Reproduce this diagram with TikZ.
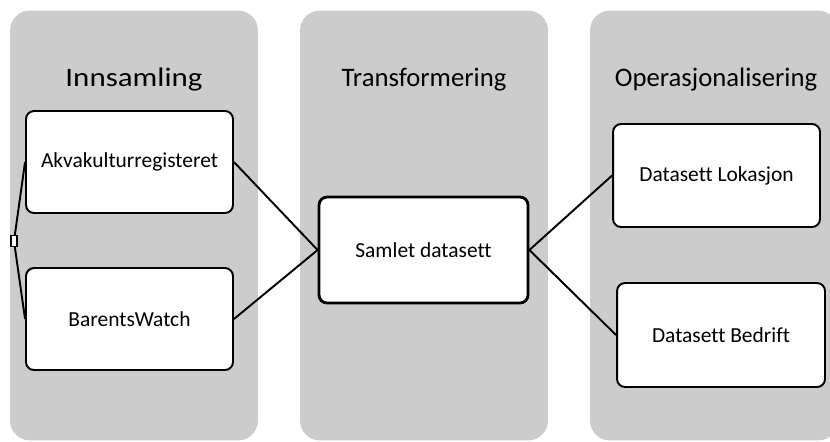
\documentclass[tikz,border=0pt]{standalone}
\usepackage{graphicx}
\usepackage{fontspec}
\setmainfont{Carlito}[Ligatures=NoCommon]
\usetikzlibrary{positioning}
\definecolor{lanegray}{HTML}{CCCCCC}
\tikzset{
  lane/.style={fill=lanegray, rounded corners=0.4cm, inner sep=0pt,
               minimum width=4.96cm, minimum height=8.6cm},
  lanetitle/.style={font=\fontsize{15.2}{18}\selectfont, anchor=base, inner sep=0pt},
  item/.style={draw=black, fill=white, line width=1.1pt, rounded corners=0.16cm,
               minimum width=4.14cm, minimum height=2.04cm, align=center,
               font=\fontsize{12.2}{14}\selectfont},
  link/.style={draw=black, line width=1.1pt},
}

\begin{document}
\begin{tikzpicture}[x=0.02cm, y=-0.02cm]
  \useasboundingbox (0,0) rectangle (830,441);
  \clip (0,0) rectangle (830,441);

  % lanes
  \node[lane] (lane1) at (134,225.5) {};
  \node[lane] (lane2) at (424,225.5) {};
  \node[lane] (lane3) at (714,225.5) {};

  \node[lanetitle] (t1) at (134,86) {\scalebox{1.16}[1]{Innsamling}};
  \node[lanetitle] (t2) at (424,86) {Transformering};
  \node[lanetitle] (t3) at (716,86) {Operasjonalisering};

  % boxes
  \node[item] (akva) at (129.5,162) {Akvakulturregisteret};
  \node[item] (barents) at (129.5,319) {BarentsWatch};
  \node[item, line width=1.6pt, minimum width=4.18cm, minimum height=2.12cm] (samlet) at (423.5,250) {Samlet datasett};
  \node[item, minimum height=2.06cm] (lok) at (716.5,175.5) {Datasett Lokasjon};
  \node[item, minimum width=4.16cm, minimum height=2.08cm] (bed) at (721,335) {Datasett Bedrift};

  \draw[link] (akva.east) -- (samlet.west);
  \draw[link] (barents.east) -- (samlet.west);
  \draw[link] (samlet.east) -- (lok.west);
  \draw[link] (samlet.east) -- (bed.west);

  \coordinate (hubc) at (14,241);
  \draw[link] (hubc) -- (akva.west);
  \draw[link] (hubc) -- (barents.west);
  \node[draw=black, fill=white, line width=0.9pt, inner sep=0pt,
        minimum width=0.12cm, minimum height=0.22cm] (hub) at (hubc) {};
\end{tikzpicture}
\end{document}
